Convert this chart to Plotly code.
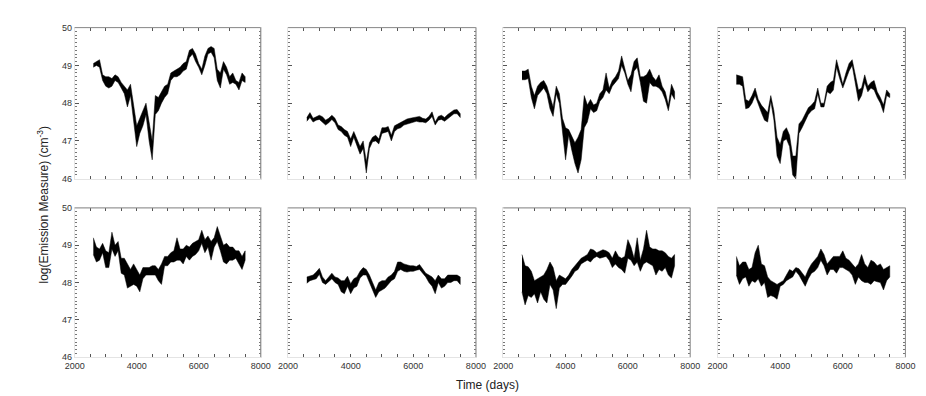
import plotly.graph_objects as go

# ---- data -------------------------------------------------------------
TIME = [2600, 2700, 2800, 2900, 3000, 3100, 3200, 3300, 3400, 3500,
        3600, 3700, 3800, 3900, 4000, 4100, 4200, 4300, 4400, 4500,
        4600, 4700, 4800, 4900, 5000, 5100, 5200, 5300, 5400, 5500,
        5600, 5700, 5800, 5900, 6000, 6100, 6200, 6300, 6400, 6500,
        6600, 6700, 6800, 6900, 7000, 7100, 7200, 7300, 7400, 7500]

p1_hi = [49.05, 49.10, 49.15, 48.75, 48.70, 48.70, 48.65, 48.75, 48.70, 48.55,
         48.45, 48.35, 48.50, 48.00, 47.40, 47.60, 47.80, 48.00, 47.50, 47.00,
         48.20, 48.15, 48.30, 48.45, 48.50, 48.80, 48.85, 48.90, 48.95, 49.05,
         49.10, 49.40, 49.45, 49.30, 49.05, 48.90, 49.25, 49.45, 49.50, 49.45,
         48.90, 48.80, 49.10, 48.95, 48.70, 48.80, 48.60, 48.55, 48.80, 48.70]
p1_lo = [48.95, 49.00, 48.95, 48.60, 48.45, 48.40, 48.45, 48.60, 48.55, 48.40,
         48.25, 47.90, 48.20, 47.50, 46.85, 47.20, 47.40, 47.70, 47.00, 46.50,
         47.70, 47.80, 48.00, 48.15, 48.25, 48.60, 48.70, 48.70, 48.75, 48.85,
         48.90, 49.20, 49.30, 49.10, 48.95, 48.75, 49.00, 49.30, 49.35, 49.20,
         48.60, 48.40, 48.90, 48.75, 48.50, 48.55, 48.50, 48.35, 48.60, 48.55]

p2_hi = [47.62, 47.75, 47.60, 47.65, 47.68, 47.64, 47.55, 47.60, 47.68, 47.60,
         47.42, 47.38, 47.30, 47.25, 47.05, 47.25, 47.05, 46.85, 47.00, 46.45,
         46.95, 47.10, 47.15, 47.05, 47.35, 47.35, 47.38, 47.15, 47.40, 47.45,
         47.48, 47.55, 47.58, 47.60, 47.62, 47.65, 47.65, 47.60, 47.58, 47.65,
         47.77, 47.50, 47.65, 47.68, 47.62, 47.70, 47.75, 47.82, 47.83, 47.72]
p2_lo = [47.52, 47.62, 47.50, 47.55, 47.57, 47.50, 47.42, 47.48, 47.57, 47.48,
         47.30, 47.25, 47.15, 47.10, 46.85, 47.10, 46.90, 46.65, 46.80, 46.15,
         46.80, 46.98, 47.00, 46.92, 47.20, 47.22, 47.25, 47.00, 47.25, 47.32,
         47.35, 47.42, 47.45, 47.48, 47.50, 47.52, 47.50, 47.50, 47.48, 47.55,
         47.65, 47.42, 47.55, 47.57, 47.52, 47.60, 47.65, 47.72, 47.72, 47.62]

p3_hi = [48.85, 48.85, 48.90, 48.45, 48.20, 48.45, 48.55, 48.60, 48.45, 48.20,
         47.90, 48.45, 48.25, 47.60, 47.35, 47.30, 47.10, 46.95, 47.10, 47.30,
         48.20, 47.95, 48.10, 47.95, 48.00, 48.25, 48.35, 48.80, 48.40, 48.60,
         48.70, 48.85, 49.25, 48.95, 48.60, 48.75, 49.10, 49.20, 48.70, 48.70,
         48.75, 48.90, 48.70, 48.60, 48.75, 48.45, 48.30, 47.95, 48.50, 48.30]
p3_lo = [48.62, 48.62, 48.65, 48.15, 47.85, 48.20, 48.30, 48.40, 48.25, 47.85,
         47.65, 48.25, 48.00, 47.30, 46.50, 47.15, 46.75, 46.40, 46.15, 46.50,
         47.35, 47.50, 47.85, 47.75, 47.80, 48.05, 48.15, 48.35, 48.25, 48.45,
         48.55, 48.65, 49.00, 48.80, 48.50, 48.30, 48.85, 48.95, 48.55, 48.05,
         48.00, 48.55, 48.45, 48.45, 48.40, 48.30, 48.10, 47.80, 48.25, 48.10]

p4_hi = [48.75, 48.72, 48.70, 48.10, 48.05, 48.20, 48.40, 48.10, 47.95, 47.85,
         47.75, 48.20, 47.80, 47.10, 46.90, 47.25, 47.35, 47.15, 46.60, 46.60,
         47.45, 47.55, 47.70, 47.88, 47.95, 48.05, 48.40, 48.00, 48.00, 48.45,
         48.55, 48.60, 49.15, 48.80, 48.50, 48.80, 49.05, 49.15, 48.70, 48.35,
         48.40, 48.75, 48.45, 48.55, 48.60, 48.30, 48.15, 47.95, 48.35, 48.25]
p4_lo = [48.50, 48.50, 48.45, 47.85, 47.88, 48.00, 48.20, 47.95, 47.75, 47.55,
         47.50, 48.05, 47.55, 46.60, 46.40, 47.00, 47.05, 46.85, 46.10, 46.00,
         47.20, 47.35, 47.50, 47.70, 47.80, 47.85, 48.25, 47.90, 47.90, 48.30,
         48.25, 48.35, 48.95, 48.65, 48.40, 48.60, 48.85, 49.00, 48.55, 48.05,
         48.20, 48.55, 48.30, 48.40, 48.35, 48.15, 48.00, 47.75, 48.20, 48.15]

p5_hi = [49.20, 48.95, 48.90, 49.05, 48.85, 48.80, 49.35, 49.00, 49.10, 48.65,
         48.65, 48.50, 48.35, 48.50, 48.35, 48.20, 48.40, 48.40, 48.40, 48.45,
         48.45, 48.35, 48.50, 48.70, 48.70, 48.80, 48.85, 49.20, 48.90, 48.90,
         49.00, 48.95, 49.05, 49.10, 49.15, 49.40, 49.15, 49.25, 49.10, 49.20,
         49.50, 49.25, 49.00, 49.05, 48.95, 48.95, 48.85, 48.85, 48.70, 48.85]
p5_lo = [48.75, 48.55, 48.60, 48.80, 48.40, 48.40, 48.90, 48.70, 48.85, 48.25,
         48.20, 47.85, 47.90, 47.95, 47.90, 47.75, 48.10, 48.20, 48.20, 48.20,
         48.20, 48.05, 47.95, 48.45, 48.45, 48.55, 48.55, 48.60, 48.60, 48.50,
         48.70, 48.60, 48.70, 48.75, 48.85, 49.05, 48.80, 48.95, 48.60, 48.95,
         49.10, 48.85, 48.55, 48.50, 48.60, 48.60, 48.65, 48.50, 48.35, 48.60]

p6_hi = [48.15, 48.17, 48.20, 48.28, 48.38, 48.15, 48.05, 48.15, 48.25, 48.15,
         48.12, 48.05, 48.05, 48.17, 47.97, 48.10, 48.15, 48.30, 48.40, 48.35,
         48.20, 48.00, 47.80, 48.00, 48.05, 48.05, 48.15, 48.20, 48.30, 48.55,
         48.55, 48.50, 48.47, 48.45, 48.45, 48.43, 48.48, 48.35, 48.25, 48.20,
         48.15, 48.05, 48.20, 48.10, 48.10, 48.20, 48.20, 48.20, 48.20, 48.15]
p6_lo = [47.98, 48.05, 48.07, 48.10, 48.22, 48.00, 47.95, 48.02, 48.10, 48.00,
         47.95, 47.75, 47.70, 47.90, 47.70, 47.85, 47.90, 48.12, 48.20, 48.20,
         48.05, 47.80, 47.60, 47.75, 47.80, 47.85, 47.95, 48.05, 48.10, 48.30,
         48.35, 48.30, 48.28, 48.30, 48.30, 48.33, 48.35, 48.25, 48.15, 48.00,
         47.90, 47.70, 48.00, 47.85, 47.90, 48.00, 48.00, 48.05, 48.05, 47.95]

p7_hi = [48.75, 48.45, 48.42, 48.30, 48.05, 48.10, 48.15, 48.20, 48.35, 48.55,
         48.40, 48.05, 48.20, 48.15, 48.10, 48.20, 48.35, 48.45, 48.55, 48.65,
         48.70, 48.75, 48.90, 48.87, 48.80, 48.85, 48.88, 48.85, 48.80, 48.65,
         48.85, 48.70, 48.65, 48.70, 49.15, 48.95, 48.65, 49.20, 48.60, 48.90,
         49.40, 48.95, 48.90, 48.90, 48.85, 48.85, 48.80, 48.70, 48.65, 48.75]
p7_lo = [47.75, 47.40, 47.65, 47.60, 47.70, 47.45, 47.75, 47.55, 47.45, 47.95,
         47.80, 47.30, 47.85, 47.95, 47.95, 48.05, 48.17, 48.30, 48.35, 48.50,
         48.55, 48.60, 48.55, 48.65, 48.70, 48.65, 48.68, 48.70, 48.60, 48.40,
         48.50, 48.40, 48.35, 48.25, 48.65, 48.60, 48.45, 48.55, 48.30, 48.50,
         48.55, 48.50, 48.45, 48.20, 48.35, 48.30, 48.40, 48.20, 48.12, 48.45]

p8_hi = [48.70, 48.45, 48.55, 48.55, 48.35, 48.40, 48.80, 49.00, 48.50, 48.45,
         48.15, 48.05, 48.00, 47.95, 48.00, 48.05, 48.20, 48.35, 48.30, 48.40,
         48.37, 48.25, 48.15, 48.35, 48.50, 48.60, 48.70, 48.90, 48.75, 48.50,
         48.60, 48.70, 48.70, 48.70, 48.85, 48.65, 48.60, 48.50, 48.40, 48.50,
         48.75, 48.50, 48.40, 48.60, 48.55, 48.45, 48.50, 48.35, 48.40, 48.45]
p8_lo = [48.20, 47.95, 48.10, 48.15, 47.90, 48.05, 48.00, 48.10, 47.90, 48.00,
         47.60, 47.65, 47.62, 47.55, 47.90, 47.95, 48.05, 48.10, 48.15, 48.30,
         48.20, 48.05, 47.90, 48.10, 48.25, 48.30, 48.40, 48.60, 48.45, 48.20,
         48.35, 48.35, 48.25, 48.40, 48.40, 48.35, 48.30, 48.20, 47.95, 48.15,
         48.05, 48.00, 48.00, 47.95, 48.05, 48.02, 48.00, 47.80, 48.05, 48.15]

PANELS = [(p1_hi, p1_lo), (p2_hi, p2_lo), (p3_hi, p3_lo), (p4_hi, p4_lo),
          (p5_hi, p5_lo), (p6_hi, p6_lo), (p7_hi, p7_lo), (p8_hi, p8_lo)]

X_TICKS = [2000, 2500, 3000, 3500, 4000, 4500, 5000, 5500, 6000, 6500, 7000, 7500, 8000]
X_LABELS = ["2000", "", "", "", "4000", "", "", "", "6000", "", "", "", "8000"]
Y_TICKS = [46, 47, 48, 49, 50]
Y_LABELS = ["46", "47", "48", "49", "50"]

Y_TITLE = "log(Emission Measure) (cm<sup>-3</sup>)"
X_TITLE = "Time (days)"

# ---- layout geometry ---------------------------------------------------
W, H = 926, 396
COL_PX = [(58, 248), (276, 468), (496, 687), (715, 907)]
ROW_PX = [(15, 170), (200, 353)]

FONT = "Liberation Sans, Arial, Helvetica, sans-serif"
TICKCOL = "#555555"

fig = go.Figure()
layout = dict(
    width=W, height=H, margin=dict(l=0, r=0, t=0, b=0),
    paper_bgcolor="white", plot_bgcolor="white", showlegend=False,
    font=dict(family=FONT, size=9, color="#333333"),
)
shapes = []

for i, (hi, lo) in enumerate(PANELS):
    r, c = divmod(i, 4)
    n = i + 1
    xa = "xaxis" if n == 1 else f"xaxis{n}"
    ya = "yaxis" if n == 1 else f"yaxis{n}"
    xr = "x" if n == 1 else f"x{n}"
    yr = "y" if n == 1 else f"y{n}"
    x0, x1 = COL_PX[c]
    t0, t1 = ROW_PX[r]
    fig.add_trace(go.Scatter(
        x=TIME + TIME[::-1], y=hi + lo[::-1],
        mode="lines", fill="toself", fillcolor="black",
        line=dict(color="black", width=0.5), xaxis=xr, yaxis=yr,
        hoverinfo="skip"))
    layout[xa] = dict(
        domain=[x0 / W, x1 / W], anchor=yr, range=[2000, 8000],
        tickmode="array", tickvals=X_TICKS,
        ticktext=X_LABELS if r == 1 else [""] * len(X_TICKS),
        ticks="inside", ticklen=3, tickcolor=TICKCOL, tickwidth=1,
        showline=True, linecolor="#e4e4e4", linewidth=1, mirror="ticks",
        showgrid=False, zeroline=False, fixedrange=True,
        tickfont=dict(size=9, color="#333333"),
    )
    layout[ya] = dict(
        domain=[1 - t1 / H, 1 - t0 / H], anchor=xr, range=[46, 50],
        tickmode="array", tickvals=Y_TICKS,
        ticktext=Y_LABELS if c == 0 else [""] * len(Y_TICKS),
        ticks="inside", ticklen=4, tickcolor=TICKCOL, tickwidth=1,
        minor=dict(dtick=0.1, ticks="inside", ticklen=2, tickcolor="#777777",
                   tickwidth=1, showgrid=False),
        showline=True, linecolor="#e4e4e4", linewidth=1, mirror="ticks",
        showgrid=False, zeroline=False, fixedrange=True,
        tickfont=dict(size=9, color="#333333"),
    )
    # darker top and right frame edges
    shapes.append(dict(type="line", xref=f"{xr} domain", yref=f"{yr} domain",
                       x0=0, x1=1, y0=1, y1=1, line=dict(color="#8a8a8a", width=1)))
    shapes.append(dict(type="line", xref=f"{xr} domain", yref=f"{yr} domain",
                       x0=1, x1=1, y0=0, y1=1, line=dict(color="#8a8a8a", width=1)))

layout["shapes"] = shapes
layout["annotations"] = [
    dict(text=Y_TITLE, xref="paper", yref="paper", x=26 / W, y=1 - 196 / H,
         textangle=-90, showarrow=False, xanchor="center", yanchor="middle",
         font=dict(size=12, color="#222222", family=FONT)),
    dict(text=X_TITLE, xref="paper", yref="paper", x=480 / W, y=1 - 382 / H,
         showarrow=False, xanchor="center", yanchor="middle",
         font=dict(size=12, color="#222222", family=FONT)),
]
fig.update_layout(**layout)
fig.write_html("out.html")
